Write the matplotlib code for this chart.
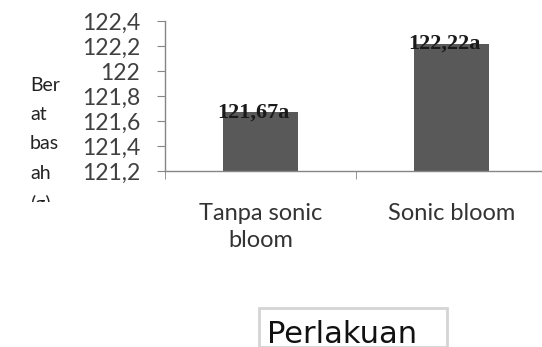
import matplotlib.pyplot as plt
from matplotlib.patches import Rectangle
from matplotlib.transforms import Bbox

perlakuan = ['Tanpa sonic\nbloom', 'Sonic bloom']
berat_basah = [121.67, 122.22]
notasi = ['121,67a', '122,22a']
yticks = [121.2, 121.4, 121.6, 121.8, 122.0, 122.2, 122.4]
ytick_labels = ['121,2', '121,4', '121,6', '121,8', '122', '122,2', '122,4']

W, H = 542, 347
fig = plt.figure(figsize=(W / 100, H / 100), dpi=100)
ax = fig.add_axes([165 / W, 1 - 171 / H, 382 / W, 150 / H])

grey = '#868686'
x = list(range(len(perlakuan)))
ax.bar(x, [v - 121.2 for v in berat_basah], bottom=121.2, width=0.39,
       color='#595959', zorder=2)

for xi, v, lab in zip(x, berat_basah, notasi):
    ax.annotate(lab, (xi, v), xytext=(-5, -4), textcoords='offset points',
                ha='center', va='baseline', fontsize=16,
                family='Liberation Serif', weight='bold', color='#1a1a1a')

ax.set_xlim(-0.5, 1.5)
ax.set_ylim(121.2, 122.4)
ax.set_yticks(yticks)
ax.set_yticklabels(ytick_labels, family='Lato', fontsize=16.5, color='#404040')
ax.set_xticks(x)
ax.set_xticklabels(perlakuan, family='Lato', fontsize=17, color='#333333',
                   linespacing=1.38, va='top')
ax.set_xticks([-0.5, 0.5, 1.5], minor=True)
ax.tick_params(axis='x', which='major', length=0, pad=23)
ax.tick_params(axis='x', which='minor', length=6, color=grey, direction='out')
ax.tick_params(axis='y', length=6, color=grey, direction='out', pad=12)

for side in ['top', 'right']:
    ax.spines[side].set_visible(False)
for side in ['left', 'bottom']:
    ax.spines[side].set_color(grey)
    ax.spines[side].set_linewidth(1)

# label sumbu y yang terpotong kotak
ylab = fig.text(30 / W, 1 - 77 / H, 'Ber\nat\nbas\nah\n(g)', ha='left',
                va='top', family='Lato', fontsize=14, color='#222222',
                linespacing=1.87)
ylab.set_clip_box(Bbox([[0, H - 202], [160, H]]))
ylab.set_clip_on(True)

# kotak judul sumbu x
fig.patches.append(Rectangle((259 / W, 0), 188 / W, (H - 308) / H,
                             transform=fig.transFigure, fill=False,
                             edgecolor='#d4d4d4', linewidth=2))
fig.text(267 / W, 1 - 343 / H, 'Perlakuan', ha='left', va='baseline',
         family='DejaVu Sans', fontsize=22, color='#111111')

fig.savefig('out.png', dpi=100)
